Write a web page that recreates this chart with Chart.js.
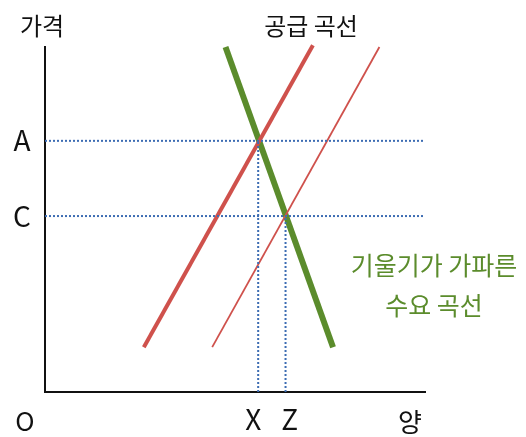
<!DOCTYPE html>
<html>
<head>
<meta charset="utf-8">
<script src="https://cdn.jsdelivr.net/npm/chart.js@4/dist/chart.umd.min.js"></script>
<style>
  html, body { margin: 0; padding: 0; background: #fff; }
  #wrap { width: 526px; height: 437px; }
</style>
</head>
<body>
<div id="wrap"><canvas id="chart" width="526" height="437"></canvas></div>
<script>
// supply / demand lines, in (quantity, price) units
var supplyOld = [{ x: 2.6, y: 1.3 }, { x: 7.05, y: 10.05 }];
var supplyNew = [{ x: 4.4, y: 1.3 }, { x: 8.8, y: 10.0 }];
var demand = [{ x: 4.75, y: 10.0 }, { x: 7.58, y: 1.3 }];

// equilibrium levels
var priceA = 7.28, priceC = 5.10;
var qtyX = 5.61, qtyZ = 6.33;
var xMax = 10, yMax = 10;

var priceLabels = [["A", priceA], ["C", priceC]];
var qtyLabels = [["X", qtyX - 0.13], ["Z", qtyZ + 0.11]];

var red = "#cf514c";
var green = "#5b8c2c";
var blue = "#3d6db3";
var font = "'Noto Sans CJK KR', 'Noto Sans', sans-serif";

function dotted(data) {
	return {
		data: data,
		borderColor: blue,
		borderWidth: 2,
		borderDash: [2, 2],
		pointRadius: 0,
		showLine: true,
		clip: false
	};
}

var labels = {
	id: "labels",
	afterDraw: function(chart) {
		var c = chart.ctx, xs = chart.scales.x, ys = chart.scales.y;
		c.save();
		c.fillStyle = "#111";
		c.textBaseline = "middle";
		c.textAlign = "center";
		c.font = "24px " + font;
		c.fillText("가격", 42, 26);
		c.fillText("공급 곡선", 311, 26);
		c.font = "26px " + font;
		c.fillText("양", 410, 422);
		c.fillText("O", 25, 421);
		c.font = "28px " + font;
		priceLabels.forEach(function(p) {
			c.fillText(p[0], 22, ys.getPixelForValue(p[1]));
		});
		qtyLabels.forEach(function(q) {
			c.fillText(q[0], xs.getPixelForValue(q[1]), 419);
		});
		c.fillStyle = green;
		c.font = "25px " + font;
		c.fillText("기울기가 가파른", 434, 265);
		c.fillText("수요 곡선", 434, 305);
		c.restore();
	}
};

new Chart(document.getElementById("chart"), {
	type: "scatter",
	data: {
		datasets: [
			dotted([{ x: 0, y: priceA }, { x: xMax, y: priceA }]),
			dotted([{ x: 0, y: priceC }, { x: xMax, y: priceC }]),
			dotted([{ x: qtyX, y: 0 }, { x: qtyX, y: priceA }]),
			dotted([{ x: qtyZ, y: 0 }, { x: qtyZ, y: priceC }]),
			{ data: supplyNew, borderColor: red, borderWidth: 1.8, pointRadius: 0, showLine: true, clip: false },
			{ data: supplyOld, borderColor: red, borderWidth: 4, pointRadius: 0, showLine: true, clip: false },
			{ data: demand, borderColor: green, borderWidth: 6, pointRadius: 0, showLine: true, clip: false }
		]
	},
	options: {
		responsive: false,
		animation: false,
		layout: { padding: { left: 37, right: 101, top: 47, bottom: 37 } },
		plugins: { legend: { display: false }, tooltip: { enabled: false } },
		scales: {
			x: {
				type: "linear", min: 0, max: xMax,
				grid: { display: false },
				ticks: { display: false },
				border: { display: true, color: "#111", width: 2 }
			},
			y: {
				type: "linear", min: 0, max: yMax,
				grid: { display: false },
				ticks: { display: false },
				border: { display: true, color: "#111", width: 2 }
			}
		}
	},
	plugins: [labels]
});
</script>
</body>
</html>
